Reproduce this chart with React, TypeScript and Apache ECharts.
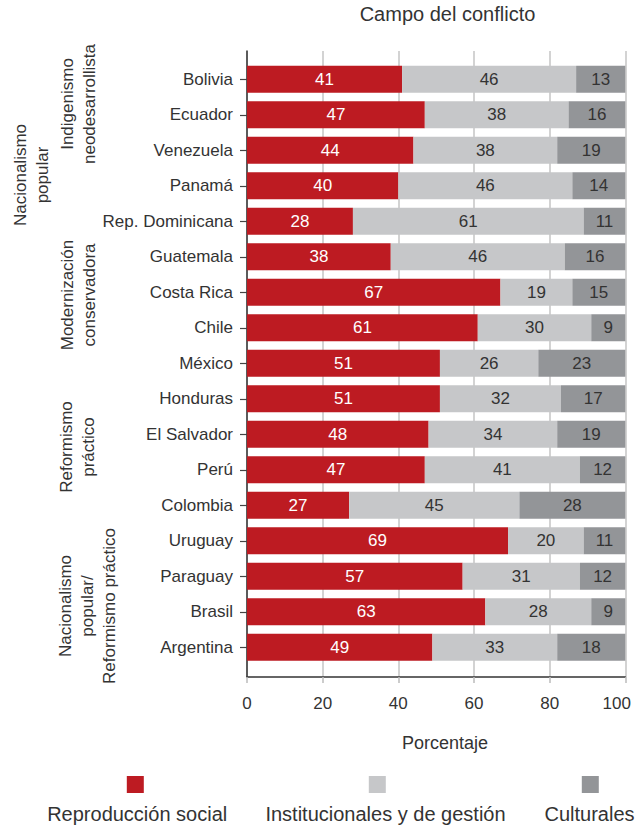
import React, { useEffect, useRef } from "react";
import * as echarts from "echarts";

const countries = [
  "Bolivia", "Ecuador", "Venezuela", "Panamá", "Rep. Dominicana", "Guatemala",
  "Costa Rica", "Chile", "México", "Honduras", "El Salvador", "Perú",
  "Colombia", "Uruguay", "Paraguay", "Brasil", "Argentina",
];
const reproduccion = [41, 47, 44, 40, 28, 38, 67, 61, 51, 51, 48, 47, 27, 69, 57, 63, 49];
const institucionales = [46, 38, 38, 46, 61, 46, 19, 30, 26, 32, 34, 41, 45, 20, 31, 28, 33];
const culturales = [13, 16, 19, 14, 11, 16, 15, 9, 23, 17, 19, 12, 28, 11, 12, 9, 18];
const seriesNames = ["Reproducción social", "Institucionales y de gestión", "Culturales"];
const xTicks = [0, 20, 40, 60, 80, 100];
const groupLabels = [
  { text: "Nacionalismo\npopular", x: 31, y: 175 },
  { text: "Indigenismo\nneodesarrollista", x: 78, y: 104 },
  { text: "Modernización\nconservadora", x: 78, y: 295 },
  { text: "Reformismo\npráctico", x: 77, y: 447 },
  { text: "Nacionalismo\npopular/\nReformismo práctico", x: 87, y: 606 },
];

const FONT = "'Liberation Sans', Arial, Helvetica, sans-serif";
const RED = "#BD1B22";
const LIGHT = "#C6C7C9";
const DARK = "#939598";
const TEXT = "#333333";

export default function App() {
  const ref = useRef<HTMLDivElement>(null);
  useEffect(() => {
    if (!ref.current) return;
    const chart = echarts.init(ref.current, undefined, { renderer: "svg" });
    const colors = [RED, LIGHT, DARK];
    const datasets = [reproduccion, institucionales, culturales];
    const legendSquares = [135.3, 377.3, 590.3];
    const legendTexts = [137.2, 385.5, 589.5];

    chart.setOption({
      animation: false,
      textStyle: { fontFamily: FONT },
      grid: [
        { left: 247, right: 9.7, top: 51, bottom: 151 },
        { left: 247, right: 9.7, top: 61.5, bottom: 163 },
      ],
      xAxis: [
        {
          gridIndex: 0,
          type: "value",
          min: 0,
          max: 100,
          interval: 20,
          axisLine: { show: true, lineStyle: { color: "#333", width: 1.5 } },
          axisTick: { show: true, length: 6, lineStyle: { color: "#bbbbbb", width: 1.5 } },
          splitLine: { show: true, lineStyle: { color: "#c4c4c4", width: 1.5 } },
          axisLabel: {
            fontSize: 17,
            color: TEXT,
            fontFamily: FONT,
            margin: 18,
            formatter: (v: number) => (v === 100 ? "{r|100}" : String(v)),
            rich: { r: { fontSize: 17, color: TEXT, fontFamily: FONT, padding: [0, 17, 0, 0] } },
          },
        },
        {
          gridIndex: 1,
          type: "value",
          min: 0,
          max: 100,
          show: false,
        },
      ],
      yAxis: [
        {
          gridIndex: 0,
          type: "value",
          min: 0,
          max: 1,
          axisLine: { show: true, lineStyle: { color: "#333", width: 1.5 } },
          axisTick: { show: false },
          axisLabel: { show: false },
          splitLine: { show: false },
        },
        {
          gridIndex: 1,
          type: "category",
          inverse: true,
          data: countries,
          axisLine: { show: false },
          axisTick: { show: true, alignWithLabel: true, length: 7, lineStyle: { color: "#444", width: 1.2 } },
          axisLabel: { fontSize: 17, color: TEXT, fontFamily: FONT, margin: 14 },
          splitLine: { show: false },
        },
      ],
      series: datasets.map((d, i) => ({
        name: seriesNames[i],
        type: "bar",
        stack: "total",
        xAxisIndex: 1,
        yAxisIndex: 1,
        barWidth: 27,
        data: d,
        itemStyle: { color: colors[i] },
        label: {
          show: true,
          position: "inside",
          fontSize: 17,
          fontFamily: FONT,
          color: i === 0 ? "#ffffff" : TEXT,
        },
      })),
      graphic: [
        {
          type: "text",
          x: 447.5,
          y: 14,
          style: { text: "Campo del conflicto", fontSize: 20, fontFamily: FONT, fill: TEXT, textAlign: "center", textVerticalAlign: "middle" },
        },
        {
          type: "text",
          x: 445,
          y: 743,
          style: { text: "Porcentaje", fontSize: 18, fontFamily: FONT, fill: TEXT, textAlign: "center", textVerticalAlign: "middle" },
        },
        ...groupLabels.map((g) => ({
          type: "text",
          x: g.x,
          y: g.y,
          rotation: Math.PI / 2,
          style: {
            text: g.text,
            fontSize: 17,
            lineHeight: 22,
            fontFamily: FONT,
            fill: TEXT,
            textAlign: "center",
            textVerticalAlign: "middle",
          },
        })),
        ...seriesNames.map((n, i) => ({
          type: "rect",
          shape: { x: legendSquares[i] - 8.5, y: 776, width: 17, height: 17 },
          style: { fill: colors[i] },
        })),
        ...seriesNames.map((n, i) => ({
          type: "text",
          x: legendTexts[i],
          y: 814,
          style: { text: n, fontSize: 20, fontFamily: FONT, fill: TEXT, textAlign: "center", textVerticalAlign: "middle" },
        })),
      ],
    });
    return () => chart.dispose();
  }, []);
  return (
    <div
      ref={ref}
      style={{ position: "absolute", left: 0, top: 0, width: 635, height: 828, background: "#fff" }}
    />
  );
}
